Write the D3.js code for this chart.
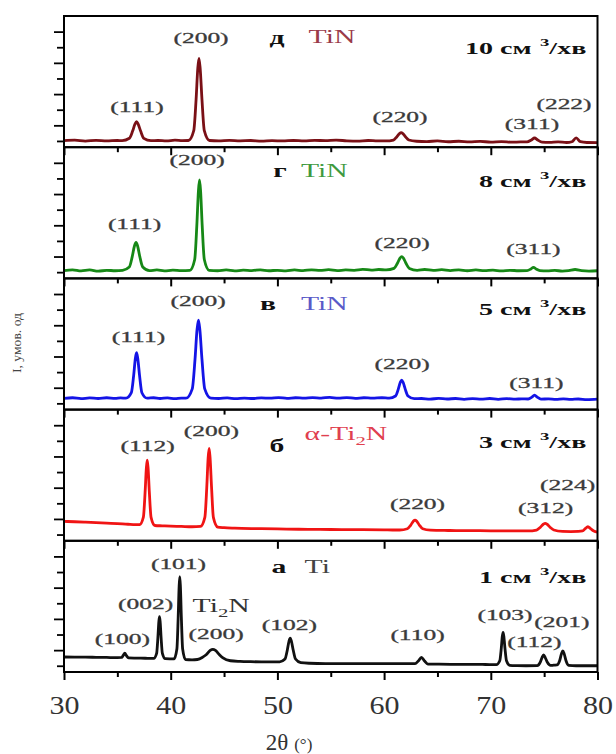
<!DOCTYPE html>
<html>
<head>
<meta charset="utf-8">
<script src="https://cdn.jsdelivr.net/npm/d3@7"></script>
<style>
  html, body { margin: 0; padding: 0; background: #fff; }
  svg { display: block; }
</style>
</head>
<body>
<svg id="chart" width="616" height="754"></svg>
<script>
// ---- data -------------------------------------------------------------
// 2θ tick values on the shared bottom axis
const xMajorTicks = [30, 40, 50, 60, 70, 80];
const xMinorTicks = [35, 45, 55, 65, 75];
// intensity ticks of every panel (arbitrary units)
const yMajorTicks = [1, 3, 5, 7];
const yMinorTicks = [0, 2, 4, 6];

// panels from top to bottom
const panelLetters = ["д", "г", "в", "б", "а"];
const phaseNames   = ["TiN", "TiN", "TiN", "α-Ti_2N", "Ti"];
const flowRates    = ["10", "8", "5", "3", "1"];

// diffraction profiles: [2θ, intensity]
const profileD = [
  [30,0.02],[31,0.05],[32,-0.01],[33,0.04],[34,0.0],[35,0.03],
  [35.45,0.02],[36.13,0.17],[36.43,0.63],[36.65,1.08],[36.8,1.23],[36.95,1.08],[37.18,0.63],[37.48,0.17],[38.15,0.02],
  [38.8,0.03],[39.6,0.0],[40.4,0.05],[41.1,0.02],
  [41.66,0.03],[42.16,0.66],[42.38,2.66],[42.54,4.66],[42.65,5.29],[42.76,4.66],[42.93,2.66],[43.15,0.66],[43.64,0.03],
  [44.5,0.0],[45.5,0.04],[46.5,0.01],[47.5,0.03],[48.5,-0.01],[49.5,0.02],[50.5,0.0],[51.5,0.03],[52.5,0.0],[53.5,0.04],
  [54.5,0.02],[55.5,0.05],[56.5,0.01],[57.5,-0.01],[58.5,0.03],[59.4,0.0],
  [60.16,0.0],[60.88,0.06],[61.2,0.27],[61.44,0.47],[61.6,0.53],[61.76,0.47],[62.0,0.27],[62.32,0.06],[63.04,-0.02],
  [64,-0.04],[65,0.0],[66,-0.05],[67,-0.02],[68,-0.06],[69,-0.03],[70,-0.07],[71,-0.04],[72,-0.08],[72.8,-0.06],
  [73.4,-0.06],[73.8,0.06],[74.1,0.19],[74.4,0.06],[74.8,-0.07],
  [75.5,-0.09],[76.3,-0.06],[77.1,-0.1],
  [77.6,-0.05],[78.0,0.2],[78.4,-0.05],[79,-0.1],[80,-0.11]
];
const profileG = [
  [30,0.1],[30.8,0.15],[31.6,0.08],[32.4,0.14],[33.2,0.06],[34,0.12],[34.8,0.09],
  [35.49,0.12],[36.12,0.33],[36.4,1.01],[36.61,1.69],[36.75,1.9],[36.89,1.69],[37.1,1.01],[37.38,0.33],[38.01,0.1],
  [38.7,0.14],[39.4,0.08],[40.2,0.13],[41,0.1],
  [41.8,0.12],[42.25,0.81],[42.45,3.01],[42.6,5.2],[42.7,5.9],[42.8,5.2],[42.95,3.01],[43.15,0.81],[43.6,0.12],
  [44.4,0.09],[45.2,0.14],[46,0.08],[46.8,0.13],[47.6,0.1],[48.4,0.15],[49.2,0.09],[50,0.12],[50.8,0.08],[51.6,0.14],
  [52.4,0.1],[53.2,0.15],[54,0.11],[54.8,0.16],[55.6,0.1],[56.4,0.14],[57.2,0.12],[58,0.18],[58.8,0.13],[59.5,0.17],
  [60.2,0.14],[60.93,0.24],[61.25,0.57],[61.49,0.9],[61.65,1.0],[61.81,0.9],[62.05,0.57],[62.37,0.24],[63.1,0.12],
  [63.8,0.17],[64.6,0.11],[65.4,0.16],[66.2,0.1],[67,0.15],[67.8,0.09],[68.6,0.14],[69.4,0.1],[70.2,0.13],[71,0.08],
  [71.8,0.12],[72.6,0.09],
  [73.4,0.1],[73.75,0.2],[74.0,0.31],[74.25,0.2],[74.6,0.1],
  [75.3,0.08],[76,0.11],[76.7,0.07],[77.3,0.1],[77.9,0.17],[78.5,0.1],[79.2,0.07],[80,0.09]
];
const profileV = [
  [30,0.32],[30.8,0.36],[31.6,0.3],[32.4,0.35],[33.2,0.31],[34,0.36],[34.8,0.32],[35.3,0.35],
  [35.81,0.33],[36.31,0.68],[36.53,1.79],[36.69,2.89],[36.8,3.24],[36.91,2.89],[37.08,1.79],[37.3,0.68],[37.79,0.33],
  [38.4,0.36],[39.0,0.31],[39.7,0.35],[40.4,0.3],[41.0,0.34],
  [41.43,0.33],[42.02,0.93],[42.28,2.83],[42.47,4.73],[42.6,5.33],[42.73,4.73],[42.93,2.83],[43.19,0.93],[43.77,0.33],
  [44.5,0.31],[45.3,0.35],[46.1,0.3],[46.9,0.34],[47.7,0.31],[48.5,0.35],[49.3,0.33],[50.1,0.37],[50.9,0.32],[51.7,0.36],
  [52.5,0.33],[53.3,0.37],[54.1,0.34],[54.9,0.38],[55.7,0.33],[56.5,0.37],[57.3,0.32],[58.1,0.36],[58.9,0.33],[59.8,0.36],
  [60.48,0.33],[61.07,0.47],[61.33,0.91],[61.52,1.35],[61.65,1.49],[61.78,1.35],[61.98,0.91],[62.24,0.47],[62.82,0.3],
  [63.5,0.31],[64.3,0.27],[65.1,0.32],[65.9,0.28],[66.7,0.31],[67.5,0.26],[68.3,0.3],[69.1,0.27],[69.9,0.31],[70.7,0.26],
  [71.5,0.3],[72.3,0.27],[72.9,0.29],
  [73.5,0.28],[73.85,0.4],[74.1,0.53],[74.35,0.4],[74.7,0.27],
  [75.4,0.29],[76.1,0.25],[76.8,0.29],[77.5,0.25],[78.2,0.28],[79,0.24],[80,0.27]
];
const profileB = [
  [30,0.84],[31,0.82],[32,0.79],[33,0.76],[34,0.73],[35,0.7],[36,0.66],[36.7,0.64],
  [37.08,0.64],[37.44,1.12],[37.6,2.7],[37.72,4.27],[37.8,4.77],[37.88,4.27],[38.0,2.7],[38.16,1.1],[38.52,0.58],
  [39.2,0.56],[40,0.54],[41,0.52],[42,0.5],
  [42.79,0.52],[43.2,1.1],[43.38,3.01],[43.51,4.92],[43.6,5.52],[43.69,4.92],[43.83,3.01],[44.0,1.1],[44.41,0.48],
  [45,0.44],[46,0.41],[48,0.38],[50,0.36],[52,0.34],[54,0.33],[56,0.32],[58,0.31],[60,0.3],[60.8,0.29],
  [61.46,0.29],[62.18,0.37],[62.5,0.61],[62.74,0.85],[62.9,0.93],[63.06,0.85],[63.3,0.61],[63.62,0.37],[64.34,0.28],
  [66,0.26],[68,0.25],[70,0.24],[72,0.23],
  [73.48,0.23],[74.29,0.29],[74.65,0.47],[74.92,0.66],[75.1,0.72],[75.28,0.66],[75.55,0.47],[75.91,0.29],[76.72,0.2],
  [77.5,0.19],[78.2,0.2],
  [78.6,0.23],[78.85,0.38],[79.1,0.5],[79.35,0.38],[79.65,0.22],[80,0.16]
];
const profileA = [
  [30,0.56],[31,0.55],[32,0.55],[33,0.54],[34,0.53],[35,0.52],
  [35.4,0.53],[35.55,0.66],[35.7,0.8],[35.85,0.65],[36.05,0.5],
  [36.8,0.49],[37.6,0.48],
  [38.41,0.47],[38.68,0.79],[38.8,1.81],[38.89,2.82],[38.95,3.14],[39.01,2.82],[39.1,1.81],[39.22,0.79],[39.49,0.45],
  [39.9,0.44],
  [40.31,0.44],[40.58,1.07],[40.7,3.07],[40.79,5.07],[40.85,5.7],[40.91,5.07],[41.0,3.07],[41.12,1.07],[41.39,0.4],
  [42,0.38],
  [42.5,0.4],[43.0,0.55],[43.35,0.72],[43.7,0.98],[43.95,1.05],[44.2,0.98],[44.55,0.72],[44.9,0.5],[45.6,0.32],
  [46.5,0.28],[47.5,0.26],[48.5,0.25],[49.5,0.25],
  [50.21,0.25],[50.71,0.43],[50.93,1.01],[51.09,1.58],[51.2,1.76],[51.31,1.58],[51.48,1.01],[51.7,0.43],[52.19,0.2],
  [53,0.16],[54.5,0.14],[56,0.14],[57.5,0.13],[59,0.13],[60.5,0.13],[62,0.13],
  [62.9,0.13],[63.2,0.3],[63.5,0.54],[63.8,0.3],[64.1,0.11],
  [65,0.1],[66.5,0.09],[68,0.09],[69.5,0.08],
  [70.52,0.07],[70.84,0.32],[70.98,1.1],[71.08,1.89],[71.15,2.14],[71.22,1.89],[71.33,1.1],[71.47,0.32],[71.78,0.03],
  [72.5,0.01],[73.3,0.0],
  [74.35,0.01],[74.65,0.25],[74.8,0.52],[74.95,0.69],[75.1,0.52],[75.3,0.22],[75.6,0.02],
  [75.9,0.04],
  [76.2,0.05],[76.45,0.32],[76.62,0.76],[76.75,0.95],[76.88,0.76],[77.05,0.32],[77.3,0.03],
  [78,0.0],[79,0.0],[80,0.0]
];
const profiles = [profileD, profileG, profileV, profileB, profileA];

// reflection labels: [2θ, intensity of the text baseline, Miller indices]
const hklD = [[36.84,1.85,"(111)"],[42.84,6.27,"(200)"],[61.49,1.21,"(220)"],[73.86,0.76,"(311)"],[76.86,2.04,"(222)"]];
const hklG = [[36.61,2.79,"(111)"],[42.47,6.83,"(200)"],[61.68,1.55,"(220)"],[74.0,1.16,"(311)"]];
const hklV = [[36.98,3.96,"(111)"],[42.56,6.26,"(200)"],[61.68,2.17,"(220)"],[74.28,1.01,"(311)"]];
const hklB = [[37.83,5.32,"(112)"],[43.82,6.28,"(200)"],[63.13,1.64,"(220)"],[75.13,1.41,"(312)"],[77.19,2.85,"(224)"]];
const hklA = [[35.48,1.42,"(100)"],[37.64,3.63,"(002)"],[40.73,6.19,"(101)"],[44.25,1.71,"(200)"],[51.13,2.26,"(102)"],
              [63.13,1.62,"(110)"],[71.33,2.96,"(103)"],[74.09,1.23,"(112)"],[76.67,2.51,"(201)"]];
const hklLabels = [hklD, hklG, hklV, hklB, hklA];

// panel captions: letter anchor, phase anchor, flow-rate baseline
const letterAnchors = [[49.96,6.2],[50.24,6.09],[49.12,5.97],[49.96,5.28],[50.15,5.94]];
const phaseAnchors  = [[52.92,6.27],[52.21,6.09],[52.21,5.97],[52.55,6.05],[52.55,5.94]];
const rateBaselines = [5.56, 5.45, 5.65, 5.54, 5.3];
const rateEnd2Theta = 78.95;
// extra phase marker inside the bottom panel
const extraPhase = [42.05, 3.44, "Ti_2N"];

// ---- styles -------------------------------------------------------------
const lineColors  = ["#7a1016", "#168816", "#1414e6", "#f01414", "#111111"];
const phaseColors = ["#9a3a4a", "#3f9a3f", "#5a5ac8", "#e0404f", "#444444"];
const serif = "'Liberation Serif','Times New Roman',serif";

// ---- layout -----------------------------------------------------------------
const X0 = 64, X1 = 597.5, Y0 = 16, Y1 = 672;
const panelH = (Y1 - Y0) / panelLetters.length;

const svg = d3.select("#chart");
const x = d3.scaleLinear().domain([30, 80]).range([X0, X1]);
const y = d3.scaleLinear().domain([-0.4, 8]).range([panelH, 0]);
const line = d3.line().x(d => x(d[0])).y(d => y(d[1])).curve(d3.curveMonotoneX);

// text that is widened horizontally, as in the printed figure
function wideText(parent, px, py, sx, anchor) {
  return parent.append("g")
    .attr("transform", `translate(${px},${py}) scale(${sx},1)`)
    .append("text")
    .attr("text-anchor", anchor)
    .attr("font-family", serif);
}

// writes "Ti_2N" style names with a lowered subscript digit
function writeFormula(text, str, size) {
  const parts = str.split("_");
  text.append("tspan").text(parts[0]);
  if (parts.length > 1) {
    text.append("tspan").attr("font-size", size * 0.7).attr("dy", size * 0.28).text(parts[1][0]);
    text.append("tspan").attr("dy", -size * 0.28).text(parts[1].slice(1));
  }
}

panelLetters.forEach((letter, i) => {
  const g = svg.append("g").attr("transform", `translate(0,${Y0 + i * panelH})`);

  // left intensity ticks
  g.append("g").attr("transform", `translate(${X0},0)`)
    .call(d3.axisLeft(y).tickValues(yMajorTicks).tickSize(10).tickFormat(""))
    .call(a => a.select(".domain").remove())
    .selectAll("line").attr("stroke", "#000").attr("stroke-width", 1.8);
  g.append("g").attr("transform", `translate(${X0},0)`)
    .call(d3.axisLeft(y).tickValues(yMinorTicks).tickSize(7).tickFormat(""))
    .call(a => a.select(".domain").remove())
    .selectAll("line").attr("stroke", "#000").attr("stroke-width", 1.8);

  // 2θ ticks below each panel
  g.append("g").attr("transform", `translate(0,${panelH})`)
    .call(d3.axisBottom(x).tickValues(xMajorTicks).tickSize(8).tickFormat(""))
    .call(a => a.select(".domain").remove())
    .selectAll("line").attr("stroke", "#000").attr("stroke-width", 2);
  g.append("g").attr("transform", `translate(0,${panelH})`)
    .call(d3.axisBottom(x).tickValues(xMinorTicks).tickSize(5).tickFormat(""))
    .call(a => a.select(".domain").remove())
    .selectAll("line").attr("stroke", "#000").attr("stroke-width", 2);

  // diffraction profile
  g.append("path")
    .datum(profiles[i])
    .attr("d", line)
    .attr("fill", "none")
    .attr("stroke", lineColors[i])
    .attr("stroke-width", 2.8)
    .attr("stroke-linejoin", "round");

  // panel frame
  g.append("rect")
    .attr("x", X0).attr("y", 0)
    .attr("width", X1 - X0).attr("height", panelH)
    .attr("fill", "none").attr("stroke", "#000").attr("stroke-width", 2);

  // Miller indices
  hklLabels[i].forEach(([tt, v, label]) => {
    wideText(g, x(tt), y(v), 1.7, "middle")
      .attr("font-size", 15).attr("fill", "#3a3a3a")
      .attr("stroke", "#3a3a3a").attr("stroke-width", 0.3)
      .text(label);
  });

  // panel letter and phase
  wideText(g, x(letterAnchors[i][0]), y(letterAnchors[i][1]), 1.65, "middle")
    .attr("font-size", 18).attr("font-weight", "bold").attr("fill", "#111")
    .text(letter);
  const ph = wideText(g, x(phaseAnchors[i][0]), y(phaseAnchors[i][1]), 1.65, "start")
    .attr("font-size", 18).attr("fill", phaseColors[i]);
  writeFormula(ph, phaseNames[i], 18);

  // gas flow rate
  const rt = wideText(g, x(rateEnd2Theta), y(rateBaselines[i]), 1.7, "end")
    .attr("font-size", 16.5).attr("font-weight", "bold").attr("fill", "#111");
  rt.append("tspan").text(flowRates[i] + " см");
  rt.append("tspan").attr("font-size", 11).attr("dx", 5).attr("dy", -8).text("3");
  rt.append("tspan").attr("dy", 8).text("/хв");

  // Ti2N marker in the Ti panel
  if (i === panelLetters.length - 1) {
    const t = wideText(g, x(extraPhase[0]), y(extraPhase[1]), 1.65, "start")
      .attr("font-size", 18).attr("fill", "#333");
    writeFormula(t, extraPhase[2], 18);
  }
});

// bottom 2θ labels
const xLab = svg.append("g").attr("transform", `translate(0,${Y1})`)
  .call(d3.axisBottom(x).tickValues(xMajorTicks).tickSize(0).tickFormat(d3.format("d")));
xLab.select(".domain").remove();
xLab.selectAll("text")
  .attr("y", 42).attr("dy", null)
  .attr("transform", "scale(1.2,1)")
  .attr("font-family", serif).attr("font-size", 25).attr("fill", "#333");

// axis titles
const xt = svg.append("text")
  .attr("x", 289).attr("y", 750)
  .attr("text-anchor", "middle")
  .attr("font-family", serif).attr("fill", "#333");
xt.append("tspan").attr("font-size", 23).text("2θ");
xt.append("tspan").attr("font-size", 17).attr("dx", 6).text("(°)");

svg.append("text")
  .attr("transform", "translate(21,343) rotate(-90)")
  .attr("text-anchor", "middle")
  .attr("font-family", serif).attr("font-size", 13).attr("fill", "#444")
  .attr("textLength", 60).attr("lengthAdjust", "spacingAndGlyphs")
  .text("I, умов. од");
</script>
</body>
</html>
